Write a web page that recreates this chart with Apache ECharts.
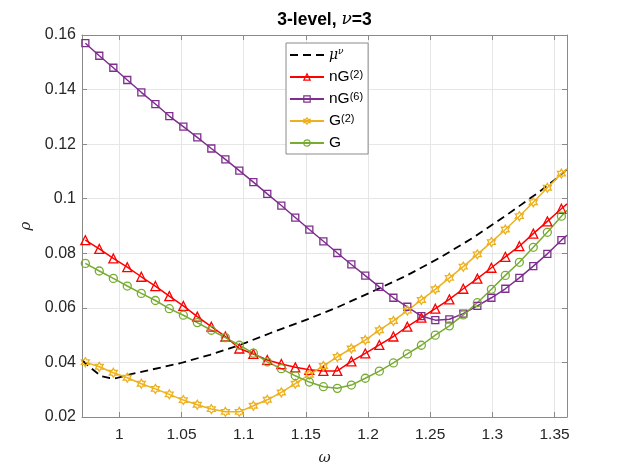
<!DOCTYPE html>
<html>
<head>
<meta charset="utf-8">
<title>3-level, nu=3</title>
<script src="https://cdn.jsdelivr.net/npm/echarts@6/dist/echarts.min.js"></script>
<style>
  html, body { margin: 0; background: #fff; }
  #chart { width: 628px; height: 471px; }
</style>
</head>
<body>
<div id="chart"></div>
<script>
// marker positions (omega); the last entry is the right axis edge, drawn without a marker
const omega = [0.9727, 0.9839, 0.9952, 1.0064, 1.0177, 1.0290, 1.0402, 1.0515, 1.0627, 1.0740,
  1.0853, 1.0965, 1.1078, 1.1190, 1.1303, 1.1415, 1.1528, 1.1641, 1.1753, 1.1866,
  1.1978, 1.2091, 1.2204, 1.2316, 1.2429, 1.2541, 1.2654, 1.2766, 1.2879, 1.2992,
  1.3104, 1.3217, 1.3329, 1.3442, 1.3555, 1.36];

const nG2 = [0.0848, 0.0816, 0.0781, 0.0749, 0.0714, 0.0680, 0.0643, 0.0607, 0.0568, 0.0531,
  0.0495, 0.0451, 0.0431, 0.0409, 0.0394, 0.0382, 0.0373, 0.0369, 0.0369, 0.0404,
  0.0433, 0.0464, 0.0495, 0.0531, 0.0564, 0.0597, 0.0631, 0.0670, 0.0707, 0.0747,
  0.0787, 0.0826, 0.0872, 0.0917, 0.0963, 0.0981];

const nG6 = [0.1570, 0.1524, 0.1480, 0.1435, 0.1390, 0.1347, 0.1303, 0.1264, 0.1225, 0.1184,
  0.1144, 0.1103, 0.1061, 0.1018, 0.0975, 0.0931, 0.0887, 0.0844, 0.0801, 0.0759,
  0.0718, 0.0677, 0.0637, 0.0604, 0.0570, 0.0555, 0.0558, 0.0579, 0.0607, 0.0637,
  0.0670, 0.0710, 0.0753, 0.0798, 0.0848, 0.0866];

const G2 = [0.0401, 0.0384, 0.0362, 0.0344, 0.0322, 0.0303, 0.0283, 0.0262, 0.0245, 0.0229,
  0.0219, 0.0219, 0.0241, 0.0263, 0.0290, 0.0322, 0.0355, 0.0387, 0.0420, 0.0451,
  0.0482, 0.0518, 0.0552, 0.0590, 0.0629, 0.0668, 0.0710, 0.0751, 0.0796, 0.0841,
  0.0887, 0.0936, 0.0987, 0.1040, 0.1092, 0.1110];

const G = [0.0763, 0.0735, 0.0708, 0.0680, 0.0653, 0.0627, 0.0597, 0.0573, 0.0546, 0.0518,
  0.0491, 0.0463, 0.0434, 0.0402, 0.0377, 0.0351, 0.0328, 0.0311, 0.0305, 0.0317,
  0.0342, 0.0368, 0.0398, 0.0431, 0.0463, 0.0500, 0.0534, 0.0574, 0.0619, 0.0668,
  0.0719, 0.0767, 0.0822, 0.0877, 0.0936, 0.0958];

// dashed mu^nu curve
const muOmega = [0.970, 0.9776, 0.9853, 0.9917, 0.9973, 1.0086, 1.0271, 1.0488, 1.0729, 1.0970,
  1.1212, 1.1480, 1.1749, 1.2017, 1.2313, 1.2579, 1.2844, 1.3117, 1.3383, 1.3520, 1.3600];
const muValues = [0.0408, 0.0378, 0.0350, 0.0343, 0.0342, 0.0356, 0.0375, 0.0397, 0.0428, 0.0464,
  0.0507, 0.0552, 0.0601, 0.0656, 0.0719, 0.0784, 0.0857, 0.0941, 0.1027, 0.1076, 0.1108];

const xTicks = [1, 1.05, 1.1, 1.15, 1.2, 1.25, 1.3, 1.35];

const legendLabels = {
  mu: "{i|μ}{si|ν}",
  nG2: "{t|nG}{s|(2)}",
  nG6: "{t|nG}{s|(6)}",
  G2: "{t|G}{s|(2)}",
  G: "{t|G}"
};

const FONT = "Liberation Sans";
const AXIS = "#8a8a8a";
const TEXT = "#262626";
const hexagram = "path://M100 0L128.9 50L186.6 50L157.7 100L186.6 150L128.9 150L100 200L71.1 150L13.4 150L42.3 100L13.4 50L71.1 50Z";
const dashIcon = "path://M0 0H8V2H0Z M13 0H21V2H13Z M26 0H34V2H26Z";

const markerSeries = (name, values, color, symbol, size) => ({
  name,
  type: "line",
  data: values.map((v, i) => i < omega.length - 1 ? [omega[i], v] : { value: [omega[i], v], symbol: "none" }),
  symbol,
  symbolSize: size,
  showAllSymbol: true,
  color,
  lineStyle: { color, width: 1.5 },
  itemStyle: { color: "none", borderColor: color, borderWidth: 1.3 },
  emphasis: { disabled: true },
  animation: false
});

const frameAxis = (extra) => Object.assign({
  type: "value",
  axisLine: { show: true, onZero: false, lineStyle: { color: AXIS, width: 1 } },
  axisLabel: { show: false },
  splitLine: { show: false }
}, extra);

const chart = echarts.init(document.getElementById("chart"), null, { renderer: "canvas" });
chart.setOption({
  backgroundColor: "#fff",
  animation: false,
  grid: { left: 82, right: 61, top: 35, bottom: 53 },
  graphic: [{
    type: "text",
    x: 324.5,
    y: 20,
    style: {
      text: "{b|3-level, }{bi|ν}{b|=3}",
      align: "center",
      verticalAlign: "middle",
      rich: {
        b: { fontFamily: FONT, fontSize: 17.5, fontWeight: "bold", fill: "#000" },
        bi: { fontFamily: "DejaVu Serif", fontSize: 17, fontStyle: "italic", fill: "#000" }
      }
    }
  }],
  legend: {
    orient: "vertical",
    left: 286,
    top: 43,
    padding: [4, 5, 3, 3],
    itemGap: 6,
    itemWidth: 34,
    itemHeight: 8,
    backgroundColor: "#fff",
    borderColor: AXIS,
    borderWidth: 1,
    borderRadius: 0,
    selectedMode: false,
    itemStyle: { color: "none", borderWidth: 1.2 },
    data: [{ name: "mu", icon: dashIcon, itemStyle: { color: "#000", borderWidth: 0 } }, "nG2", "nG6", "G2", "G"],
    formatter: (n) => legendLabels[n],
    textStyle: {
      fontFamily: FONT, fontSize: 15, color: "#000", lineHeight: 16,
      rich: {
        t: { fontFamily: FONT, fontSize: 15.5, color: "#000", lineHeight: 16 },
        s: { fontFamily: FONT, fontSize: 11, color: "#000", lineHeight: 16, verticalAlign: "top", padding: [0, 0, 3, 0] },
        i: { fontFamily: "DejaVu Serif", fontStyle: "italic", fontSize: 14, color: "#000", lineHeight: 16 },
        si: { fontFamily: "DejaVu Serif", fontStyle: "italic", fontSize: 9, color: "#000", lineHeight: 16, verticalAlign: "top" }
      }
    }
  },
  xAxis: [
    {
      type: "value", min: 0.97, max: 1.36, splitNumber: 8, position: "bottom",
      axisLine: { show: true, onZero: false, lineStyle: { color: AXIS, width: 1 } },
      axisTick: { show: true, inside: true, length: 5, customValues: xTicks, lineStyle: { color: AXIS } },
      axisLabel: { customValues: xTicks, color: TEXT, fontFamily: FONT, fontSize: 15.5, margin: 10 },
      splitLine: { show: true, lineStyle: { color: "#e6e6e6", width: 1 } },
      name: "ω", nameLocation: "middle", nameGap: 34,
      nameTextStyle: { fontFamily: "DejaVu Serif", fontStyle: "italic", fontSize: 15, color: TEXT }
    },
    frameAxis({
      min: 0.97, max: 1.36, position: "top",
      axisTick: { show: true, inside: true, length: 5, customValues: xTicks, lineStyle: { color: AXIS } }
    })
  ],
  yAxis: [
    {
      type: "value", min: 0.02, max: 0.16, interval: 0.02, position: "left",
      axisLine: { show: true, onZero: false, lineStyle: { color: AXIS, width: 1 } },
      axisTick: { show: true, inside: true, length: 5, lineStyle: { color: AXIS } },
      axisLabel: { color: TEXT, fontFamily: FONT, fontSize: 16, margin: 6 },
      splitLine: { show: true, lineStyle: { color: "#e6e6e6", width: 1 } },
      name: "ρ", nameLocation: "middle", nameGap: 36,
      nameTextStyle: { fontFamily: "DejaVu Serif", fontStyle: "italic", fontSize: 15, color: TEXT }
    },
    frameAxis({
      min: 0.02, max: 0.16, interval: 0.02, position: "right",
      axisTick: { show: true, inside: true, length: 5, lineStyle: { color: AXIS } }
    })
  ],
  series: [
    {
      name: "mu",
      type: "line",
      data: muValues.map((v, i) => [muOmega[i], v]),
      symbol: "none",
      color: "#000",
      lineStyle: { color: "#000", width: 1.8, type: [8, 5] },
      itemStyle: { color: "#000" },
      emphasis: { disabled: true },
      animation: false
    },
    markerSeries("nG2", nG2, "#ff0000", "triangle", 9),
    markerSeries("nG6", nG6, "#7e2f8e", "rect", 7),
    markerSeries("G2", G2, "#edb120", hexagram, [8, 9]),
    markerSeries("G", G, "#77ac30", "circle", 8)
  ]
});
</script>
</body>
</html>
